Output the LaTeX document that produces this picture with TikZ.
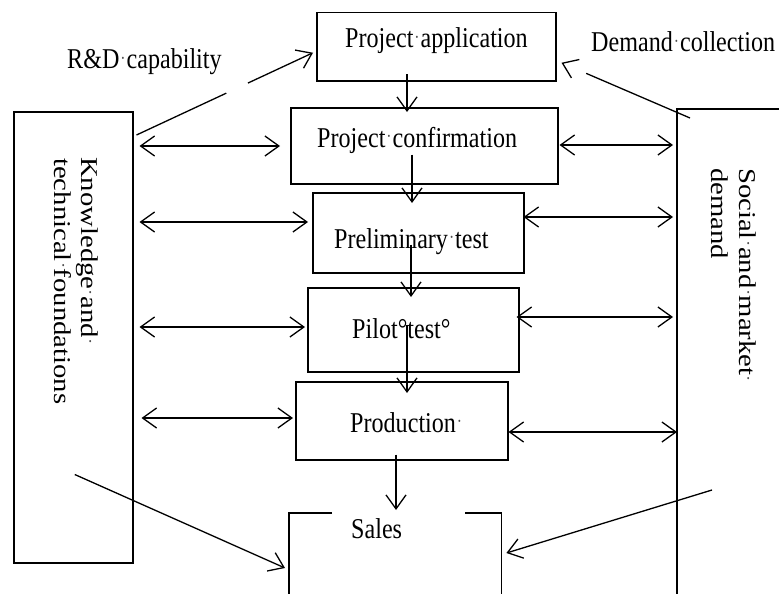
\documentclass[tikz,border=0pt]{standalone}
\usepackage{fontspec}
\setmainfont{Liberation Serif}[FakeStretch=0.84]
\newfontfamily\rotfont{Liberation Serif}
\usetikzlibrary{arrows.meta,calc}
% small space marker between words
\newcommand\wdot{\makebox[0.25em]{\raisebox{0.17em}{\scalebox{0.65}{\textcolor{black!70}{·}}}}}

\begin{document}
\begin{tikzpicture}[x=1pt,y=-1pt,
  box/.style={draw, line width=1.5pt, inner sep=0pt, anchor=north west},
  frame/.style={inner sep=0pt, anchor=north west},
  edge/.style={line width=1.5pt},
  lbl/.style={font=\fontsize{28.7}{31}\selectfont, inner sep=0pt, anchor=base west},
  rottext/.style={font=\rotfont\fontsize{28.7}{31}\selectfont, inner sep=0pt,
                  anchor=base west, xscale=0.84, rotate=-90},
  barb/.tip={Straight Barb[length=14pt,width=20pt]},
  arr/.style={line width=1.3pt, -barb},
  dbl/.style={line width=1.3pt, barb-barb}]

\useasboundingbox[fill=white] (0,0) rectangle (779,594);

% process boxes
\node[box, minimum width=239pt, minimum height=68pt] (app)  at (316,12)  {};
\node[box, minimum width=267pt, minimum height=76pt] (conf) at (290,107) {};
\node[box, minimum width=211pt, minimum height=80pt] (pre)  at (312,192) {};
\node[box, minimum width=211pt, minimum height=84pt] (pil)  at (307,287) {};
\node[box, minimum width=212pt, minimum height=78pt] (prod) at (295,381) {};
\node[box, minimum width=119pt, minimum height=451pt] (kt)  at (13,111)  {};

% open frames
\node[frame, minimum width=212pt, minimum height=90pt] (sales) at (289,513) {};
\draw[edge] ($(sales.north west)+(43,0)$) -- (sales.north west) -- (sales.south west);
\draw[edge] ($(sales.north east)+(-36,0)$) -- (sales.north east) -- (sales.south east);

\node[frame, minimum width=110pt, minimum height=490pt] (sm) at (677,109) {};
\draw[edge] (sm.south west) -- (sm.north west) -- (sm.north east);

% texts
\node[lbl] (rdt)    at (67,69)   {R\&D\wdot capability};
\node[lbl] (dct)    at (591,52)  {Demand\wdot collection};
\node[lbl] (appt)   at (345,48)  {Project\wdot application};
\node[lbl] (conft)  at (317,147) {Project\wdot confirmation};
\node[lbl] (pret)   at (334,248) {Preliminary\wdot test};
\node[lbl] (pilt)   at (352,338) {Pilot°test°};
\node[lbl] (prodt)  at (350,432) {Production\wdot};
\node[lbl] (salest) at (351,538) {Sales};
\node[rottext] (kt1) at (81,157) {Knowledge\wdot and\wdot};
\node[rottext] (kt2) at (54,158) {technical\wdot foundations};
\node[rottext] (sm1) at (739,168) {Social\wdot and\wdot market\wdot};
\node[rottext] (sm2) at (711,168) {demand};

% main flow
\draw[arr] ($(app.south -| 407,0)+(0,-7)$)   -- ($(conf.north -| 407,0)+(0,5)$);
\draw[arr] ($(conf.south -| 412,0)+(0,-30)$) -- ($(pre.north -| 412,0)+(0,11)$);
\draw[arr] ($(pre.south -| 411,0)+(0,-29)$)  -- ($(pil.north -| 411,0)+(0,10)$);
\draw[arr] ($(pil.south -| 407,0)+(0,-48)$)  -- ($(prod.north -| 407,0)+(0,12)$);
\draw[arr] ($(prod.south -| 396,0)+(0,-6)$)  -- ($(sales.north -| 396,0)+(0,-3)$);

% capability and demand inputs
\draw[arr, dash pattern=on 99pt off 24pt on 400pt]
  ($(kt.north east)+(3,24)$) -- ($(app.west)+(-3,6)$);
\draw[arr, dash pattern=on 113pt off 60pt]
  ($(sm.north west)+(13,9)$) -- ($(app.east)+(5,16)$);

% knowledge side exchanges
\draw[dbl] ($(kt.east |- 0,146)+(6,0)$) -- ($(conf.west |- 0,146)+(-10,0)$);
\draw[dbl] ($(kt.east |- 0,222)+(6,0)$) -- ($(pre.west |- 0,222)+(-4,0)$);
\draw[dbl] ($(kt.east |- 0,327)+(6,0)$) -- ($(pil.west |- 0,327)+(-2,0)$);
\draw[dbl] ($(kt.east |- 0,418)+(8,0)$) -- ($(prod.west |- 0,418)+(-2,0)$);

% market side exchanges
\draw[dbl] ($(conf.east |- 0,145)+(1,0)$)  -- ($(sm.west |- 0,145)+(-4,0)$);
\draw[dbl] ($(pre.east |- 0,217)+(-1,0)$)  -- ($(sm.west |- 0,217)+(-4,0)$);
\draw[dbl] ($(pil.east |- 0,317)+(-3,0)$)  -- ($(sm.west |- 0,317)+(-4,0)$);
\draw[dbl] (prod.east |- 0,432) -- (sm.west |- 0,432);

% inputs to sales
\draw[arr] ($(kt.south)+(1.5,-89)$) -- ($(sales.north west)+(-4,55)$);
\draw[arr] ($(sm.north west)+(35,381)$) -- ($(sales.north east)+(5,40)$);
\end{tikzpicture}
\end{document}
